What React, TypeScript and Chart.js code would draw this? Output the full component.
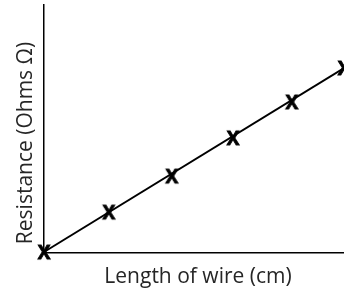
import React, { useEffect, useRef } from "react";
import { Chart, registerables } from "chart.js";

Chart.register(...registerables);

const xTitle = "Length of wire (cm)";
const yTitle = "Resistance (Ohms Ω)";
const pointX = [0, 1.08, 2.13, 3.15, 4.13, 5.0];
const pointY = [0.04, 1.65, 3.1, 4.64, 6.09, 7.46];
const fitX = [0, 5];
const fitY = [0.04, 7.46];

const FONT = "21px 'Open Sans'";
const TEXT_COLOR = "#262626";

function makeMarker(): HTMLCanvasElement {
  const c = document.createElement("canvas");
  c.width = 20;
  c.height = 20;
  const ctx = c.getContext("2d")!;
  ctx.fillStyle = "#000";
  ctx.strokeStyle = "#000";
  ctx.lineWidth = 0.8;
  ctx.font = "bold 19px 'Open Sans'";
  ctx.textAlign = "center";
  ctx.textBaseline = "alphabetic";
  ctx.fillText("X", 10, 17);
  ctx.strokeText("X", 10, 17);
  return c;
}

const titlesPlugin = {
  id: "axisTitles",
  afterDraw(chart: any) {
    const { ctx, chartArea } = chart;
    ctx.save();
    ctx.fillStyle = TEXT_COLOR;
    ctx.font = FONT;
    ctx.textAlign = "center";
    ctx.textBaseline = "alphabetic";
    const cx = (chartArea.left + chartArea.right) / 2 + 4;
    ctx.fillText(xTitle, cx, chartArea.bottom + 30);
    ctx.translate(chartArea.left - 12, (chartArea.top + chartArea.bottom) / 2 + 14);
    ctx.rotate(-Math.PI / 2);
    ctx.fillText(yTitle, 0, 0);
    ctx.restore();
  },
};

export default function App() {
  const ref = useRef<HTMLCanvasElement>(null);
  useEffect(() => {
    document.body.style.margin = "0";
    const marker = makeMarker();
    const chart = new Chart(ref.current!, {
      type: "scatter",
      data: {
        datasets: [
          {
            type: "line",
            data: fitX.map((x, i) => ({ x, y: fitY[i] })),
            borderColor: "#000",
            borderWidth: 2,
            pointRadius: 0,
            showLine: true,
            clip: false,
          },
          {
            data: pointX.map((x, i) => ({ x, y: pointY[i] })),
            pointStyle: marker,
            pointRadius: 9,
            showLine: false,
            clip: false,
          },
        ],
      },
      options: {
        animation: false,
        responsive: true,
        maintainAspectRatio: false,
        layout: { autoPadding: false, padding: { top: 5, right: 0, left: 0, bottom: 0 } },
        plugins: { legend: { display: false }, tooltip: { enabled: false } },
        scales: {
          x: {
            type: "linear",
            min: 0,
            max: 5,
            ticks: { display: false },
            grid: { display: false },
            border: { display: true, color: "#000", width: 1.5 },
            afterFit: (s: any) => {
              s.height = 38;
            },
          },
          y: {
            type: "linear",
            min: 0,
            max: 10,
            ticks: { display: false },
            grid: { display: false },
            border: { display: true, color: "#000", width: 1.5 },
            afterFit: (s: any) => {
              s.width = 44;
            },
          },
        },
      },
      plugins: [titlesPlugin],
    });
    return () => chart.destroy();
  }, []);
  return (
    <div style={{ width: 344, height: 291, position: "relative" }}>
      <canvas ref={ref} />
    </div>
  );
}
